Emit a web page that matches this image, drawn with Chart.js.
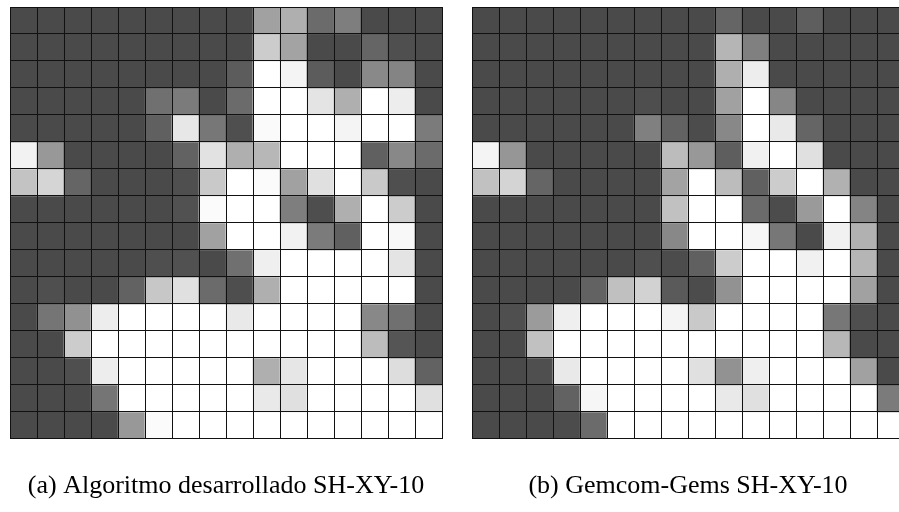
<!DOCTYPE html>
<html>
<head>
<meta charset="utf-8">
<script src="https://cdn.jsdelivr.net/npm/chart.js@4.4.1/dist/chart.umd.min.js"></script>
<style>
  html, body { margin: 0; padding: 0; background: #fff; overflow: hidden; }
  #wrap { position: relative; width: 899px; height: 512px; overflow: hidden; }
  canvas { position: absolute; top: 0; }
</style>
</head>
<body>
<div id="wrap">
  <canvas id="gridA" width="453" height="512" style="left:0px"></canvas>
  <canvas id="gridB" width="452" height="512" style="left:462px"></canvas>
</div>
<script>
// Block model grid: 16 columns (x) by 16 rows (y), row 0 is the top row.
const columnLabels = ['1','2','3','4','5','6','7','8','9','10','11','12','13','14','15','16'];
const rowLabels    = ['1','2','3','4','5','6','7','8','9','10','11','12','13','14','15','16'];

const captionA = '(a) Algoritmo desarrollado SH-XY-10';
const captionB = '(b) Gemcom-Gems SH-XY-10';

// Normalised block values (0 = low, 1 = high), one array per row, top to bottom.
const algoritmoRows = [
  [0,0,0,0,0,0,0,0,0,.48,.56,.18,.29,0,0,0],
  [0,0,0,0,0,0,0,0,0,.72,.49,0,0,.15,.03,0],
  [0,0,0,0,0,0,0,0,.10,1,.94,.10,0,.35,.32,0],
  [0,0,0,0,0,.21,.27,0,.18,1,1,.85,.56,1,.90,0],
  [0,0,0,0,0,.12,.87,.25,.03,.97,1,1,.94,1,1,.27],
  [.93,.43,0,0,0,0,.13,.84,.56,.60,1,1,1,.12,.34,.18],
  [.67,.77,.15,0,0,0,.03,.70,1,.98,.48,.83,1,.70,.03,0],
  [0,0,0,0,0,0,.04,.98,1,1,.29,.02,.56,1,.72,0],
  [0,0,0,0,0,0,0,.48,1,1,.93,.27,.12,1,.96,0],
  [0,0,0,0,0,.03,.04,0,.21,.91,1,1,1,1,.85,0],
  [0,.03,0,0,.13,.69,.83,.18,.02,.56,1,1,1,1,1,0],
  [0,.24,.39,.90,1,1,1,1,.88,1,1,1,1,.34,.21,0],
  [0,0,.72,1,1,1,1,1,1,1,1,1,1,.63,.06,0],
  [0,0,.03,.90,1,1,1,1,1,.56,.86,1,1,1,.81,.13],
  [0,0,0,.24,1,1,1,1,1,.88,.83,1,1,1,1,.83],
  [0,0,0,0,.43,.98,1,1,1,1,1,1,1,1,1,1]
];

const gemsRows = [
  [0,0,0,0,0,0,0,0,0,.15,0,0,.11,0,0,0],
  [0,0,0,0,0,0,0,0,0,.59,.30,0,0,0,0,0],
  [0,0,0,0,0,0,0,0,0,.56,.90,0,0,0,0,0],
  [0,0,0,0,0,0,.02,0,0,.48,1,.33,0,0,0,0],
  [0,0,0,0,0,0,.30,.13,.01,.34,1,.88,.15,0,0,0],
  [.94,.42,0,0,0,0,0,.63,.43,.11,.92,1,.83,0,0,0],
  [.66,.76,.15,0,0,0,0,.49,1,.63,.12,.72,1,.57,0,0],
  [0,0,0,0,0,0,0,.66,1,1,.18,.01,.44,1,.32,0],
  [0,0,0,0,0,0,0,.34,1,1,.95,.25,0,.92,.57,0],
  [0,0,0,0,0,0,.03,.01,.12,.72,1,1,.92,1,.59,0],
  [0,0,0,0,.13,.65,.75,.09,.01,.40,1,1,1,1,.48,0],
  [0,.03,.45,.91,1,1,1,.94,.70,1,1,1,1,.25,.03,0],
  [0,0,.66,1,1,1,1,1,1,1,1,1,1,.60,0,0],
  [0,0,.03,.88,1,1,1,1,.83,.40,.91,1,1,1,.48,0],
  [0,0,0,.13,.95,1,1,1,1,.88,.83,1,1,1,1,.27],
  [0,0,0,.01,.18,1,1,1,1,1,1,1,1,1,1,1]
];

// Grey ramp: low values dark grey, high values white.
function shade(v) {
  const g = Math.round(74 + 181 * v);
  return 'rgb(' + g + ',' + g + ',' + g + ')';
}

const LINE = '#111111';

function buildGrid(canvasId, rows, caption, padding) {
  const nRows = rowLabels.length;
  const datasets = rows.map((vals, r) => ({
    label: rowLabels[r],
    // each cell spans one unit of the row axis
    data: columnLabels.map(() => [nRows - r - 1, nRows - r]),
    backgroundColor: vals.map(shade),
    borderWidth: 0,
    grouped: false,
    barPercentage: 1,
    categoryPercentage: 1
  }));

  return new Chart(document.getElementById(canvasId), {
    type: 'bar',
    data: { labels: columnLabels, datasets },
    options: {
      responsive: false,
      animation: false,
      devicePixelRatio: 1,
      layout: { padding },
      plugins: {
        legend: { display: false },
        tooltip: { enabled: false },
        title: {
          display: true,
          text: caption,
          position: 'bottom',
          color: '#000',
          font: { family: 'Liberation Serif', size: 26, weight: 'normal' },
          padding: { top: 32, bottom: 10 }
        }
      },
      scales: {
        x: {
          type: 'category',
          offset: true,
          ticks: { display: false },
          grid: { offset: true, color: LINE, lineWidth: 1, drawTicks: false, z: 1 },
          border: { display: true, color: LINE, width: 1, z: 1 },
          afterFit: s => { s.height = 0; }
        },
        y: {
          type: 'linear',
          min: 0,
          max: nRows,
          ticks: { display: false, stepSize: 1 },
          grid: { color: LINE, lineWidth: 1, drawTicks: false, z: 1 },
          border: { display: true, color: LINE, width: 1, z: 1 },
          afterFit: s => { s.width = 0; }
        }
      }
    }
  });
}

buildGrid('gridA', algoritmoRows, captionA, { left: 10, right: 11, top: 7, bottom: 0 });
buildGrid('gridB', gemsRows, captionB, { left: 10, right: 10, top: 7, bottom: 0 });
</script>
</body>
</html>
